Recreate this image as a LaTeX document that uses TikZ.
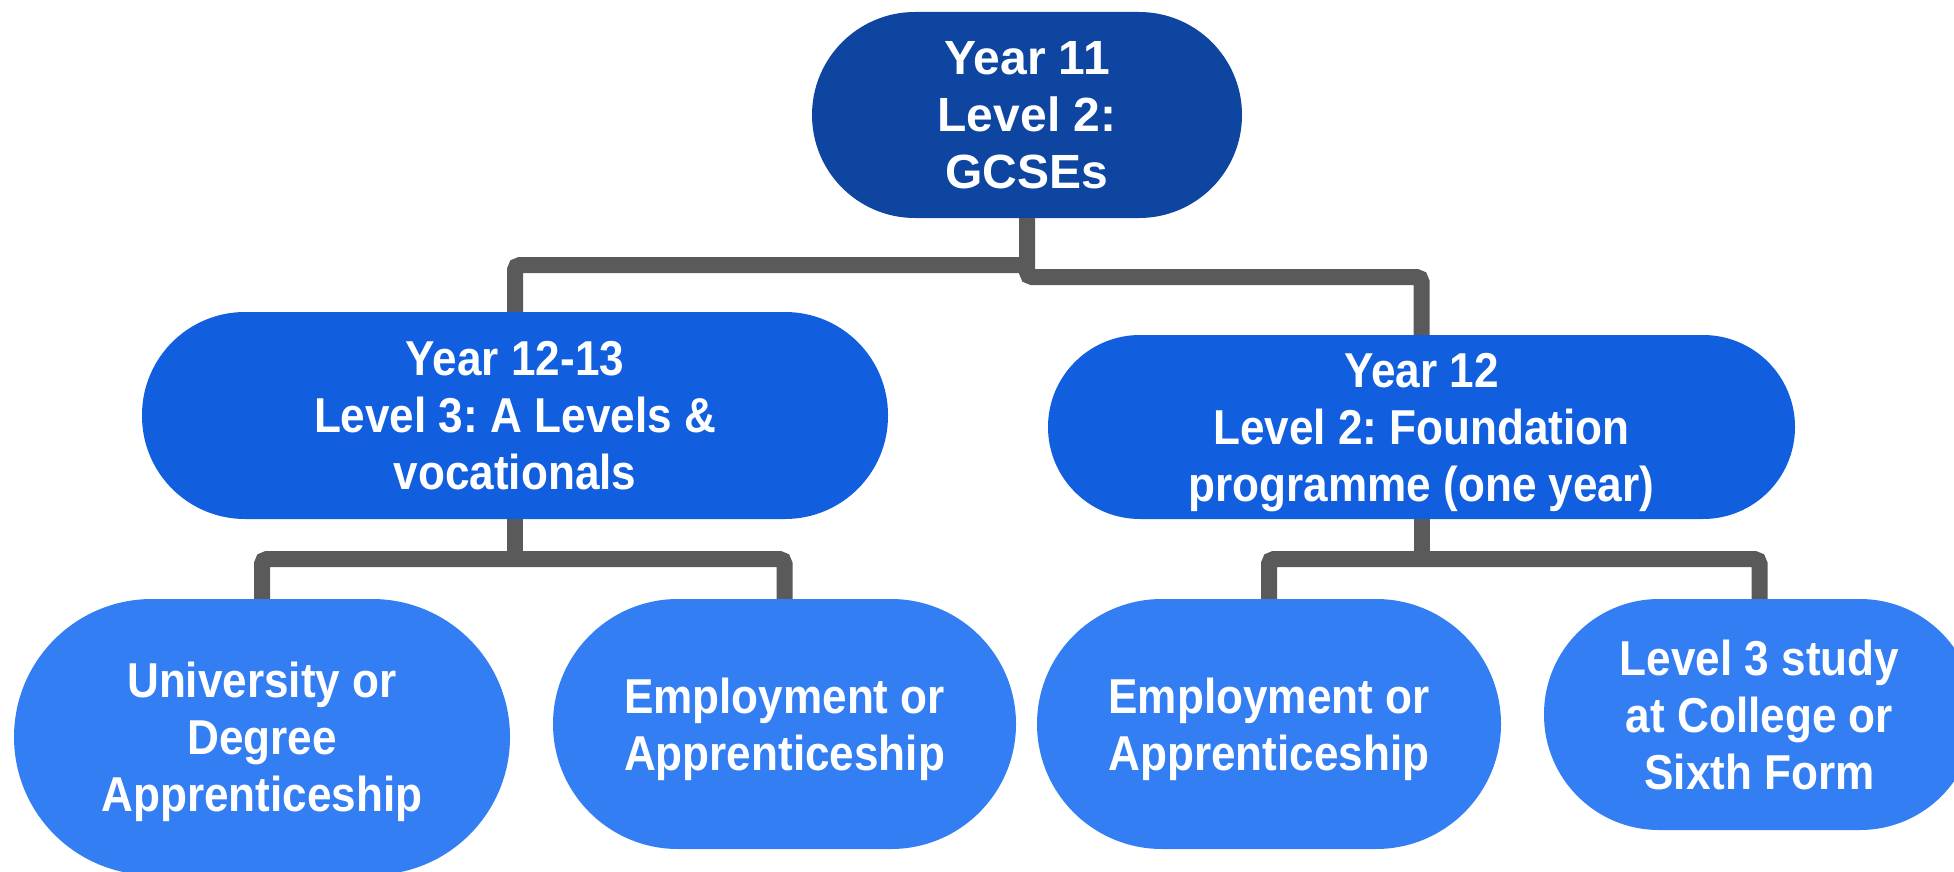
\documentclass[tikz,border=0pt]{standalone}
\usepackage{fontspec}
\newfontfamily\topfont{Liberation Sans}
\newfontfamily\nfont[FakeStretch=0.9]{Liberation Sans}
\definecolor{cTop}{RGB}{13,69,161}
\definecolor{cMid}{RGB}{17,94,223}
\definecolor{cLow}{RGB}{52,126,243}
\definecolor{cLine}{RGB}{90,90,90}
\begin{document}
\begin{tikzpicture}[x=1pt,y=-1pt,
  pill/.style={draw=none, text=white, align=center, inner sep=0pt, shape=rectangle, text depth=0pt},
  toptxt/.style={font=\frenchspacing\topfont\bfseries\fontsize{48}{57}\selectfont},
  midtxt/.style={font=\frenchspacing\nfont\bfseries\fontsize{49}{57}\selectfont},
  conn/.style={draw=cLine, line width=16pt, rounded corners=5pt}]
\clip (0,0) rectangle (1954,872);
\fill[white] (0,0) rectangle (1954,872);

\node[pill, toptxt, fill=cTop, minimum width=430pt, minimum height=206pt, rounded corners=103pt] (top) at (1027,115) {Year 11\\Level 2:\\GCSEs};
\node[pill, midtxt, fill=cMid, minimum width=746pt, minimum height=207pt, rounded corners=103pt] (lm) at (515,415.5) {Year 12-13\\Level 3: A Levels \&\\vocationals};
\node[pill, midtxt, fill=cMid, minimum width=747pt, minimum height=184pt, rounded corners=92pt] (rm) at (1421.5,427) {Year 12\\Level 2: Foundation\\programme (one year)};
\node[pill, midtxt, fill=cLow, minimum width=496pt, minimum height=276pt, rounded corners=138pt] (b1) at (262,737) {University or\\Degree\\Apprenticeship};
\node[pill, midtxt, fill=cLow, minimum width=463pt, minimum height=250pt, rounded corners=125pt] (b2) at (784.5,724) {Employment or\\Apprenticeship};
\node[pill, midtxt, fill=cLow, minimum width=464pt, minimum height=250pt, rounded corners=125pt] (b3) at (1269,724) {Employment or\\Apprenticeship};
\node[pill, midtxt, fill=cLow, minimum width=431pt, minimum height=231pt, rounded corners=115pt] (b4) at (1759.5,714.5) {Level 3 study\\at College or\\Sixth Form};

\coordinate (jl) at (0,265);
\coordinate (jr) at (0,277);
\coordinate (bk) at (0,559);

\draw[conn] (top.south) -- (top.south |- jr) -- (rm.north |- jr) -- (rm.north);
\draw[conn] (top.south |- jl) -- (lm.north |- jl) -- (lm.north);

\draw[conn] (lm.south) -- (lm.south |- bk);
\draw[conn] (b1.north) -- (b1.north |- bk) -- (b2.north |- bk) -- (b2.north);
\draw[conn] (rm.south) -- (rm.south |- bk);
\draw[conn] (b3.north) -- (b3.north |- bk) -- (b4.north |- bk) -- (b4.north);
\end{tikzpicture}
\end{document}
